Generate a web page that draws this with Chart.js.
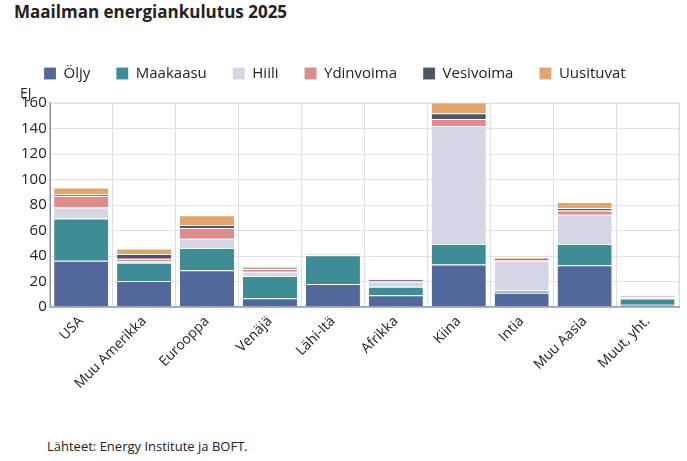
<!DOCTYPE html>
<html>
<head>
<meta charset="utf-8">
<script src="https://cdn.jsdelivr.net/npm/chart.js@4"></script>
<style>
  body { margin: 0; background: #fff; font-family: "Open Sans", sans-serif; }
  h1 { position: absolute; left: 14px; top: 0px; margin: 0; font-size: 17px; font-weight: bold; color: #222; }
  #wrap { position: absolute; left: 0; top: 40px; width: 687px; height: 358px; }
  .src { position: absolute; left: 47px; top: 437px; font-size: 13px; color: #222; }
</style>
</head>
<body>
<h1>Maailman energiankulutus 2025</h1>
<div id="wrap"><canvas id="c"></canvas></div>
<div class="src">Lähteet: Energy Institute ja BOFT.</div>
<script>
// alueet ja kerrosten osuudet luettu kuvasta (EJ)
const labels = ["USA", "Muu Amerikka", "Eurooppa", "Venäjä", "Lähi-Itä", "Afrikka", "Kiina", "Intia", "Muu Aasia", "Muut, yht."];
const data = {
    "Öljy":      [36.4, 20.5, 28.8, 6.9, 18.0, 9.3, 33.3, 11.2, 32.8, 1.9],
    "Maakaasu":  [33.1, 14.2, 17.6, 17.4, 22.7, 6.7, 16.2, 1.8, 16.7, 4.8],
    "Hiili":     [8.5, 1.3, 7.2, 3.3, 0.1, 4.0, 92.4, 23.4, 22.9, 1.2],
    "Ydinvoima": [9.0, 1.8, 8.4, 2.2, 0.5, 0.5, 5.5, 0.6, 3.3, 0.4],
    "Vesivoima": [1.3, 3.9, 2.3, 0.9, 0.2, 0.9, 4.6, 0.8, 1.9, 0.7],
    "Uusituvat": [5.5, 4.3, 7.7, 0.7, 0.5, 0.5, 10.0, 1.4, 4.8, 0.5]
};
const colors = {
    "Öljy": "#52679b", "Maakaasu": "#3e8c95", "Hiili": "#d3d6e3",
    "Ydinvoima": "#e08a8b", "Vesivoima": "#4b5669", "Uusituvat": "#e2a56c"
};

new Chart(document.getElementById("c"), {
    type: "bar",
    data: {
        labels: labels,
        datasets: Object.keys(data).map(k => ({
            label: k, data: data[k], backgroundColor: colors[k],
            borderColor: "rgba(255,255,255,0.6)", borderWidth: { top: 1 },
            categoryPercentage: 0.86, barPercentage: 1
        }))
    },
    options: {
        responsive: true, maintainAspectRatio: false, animation: false,
        layout: { padding: { left: 18, right: 8, top: 0 } },
        plugins: {
            legend: {
                position: "top", align: "start",
                labels: { boxWidth: 12, boxHeight: 12, padding: 26, color: "#222", font: { family: "Open Sans", size: 15 } }
            },
            title: { display: false }
        },
        scales: {
            x: {
                stacked: true,
                grid: { offset: true, color: "#dcdde3", drawTicks: false },
                border: { color: "#777c88", width: 2 },
                ticks: { color: "#222", maxRotation: 45, minRotation: 45, padding: 6, font: { family: "Open Sans", size: 14 } }
            },
            y: {
                stacked: true, min: 0, max: 160,
                ticks: { stepSize: 20, color: "#222", font: { family: "Open Sans", size: 15 } },
                grid: { color: "#e2e3e8", drawTicks: false },
                border: { color: "#777c88", width: 2 },
                title: { display: false }
            }
        }
    },
    plugins: [{
        id: "legendGap",
        beforeInit(chart) {
            const fit = chart.legend.fit;
            chart.legend.fit = function () { fit.bind(chart.legend)(); this.height += 12; };
        }
    }, {
        id: "ej",
        afterDraw(chart) {
            const ctx = chart.ctx;
            ctx.save();
            ctx.font = "14px 'Open Sans'";
            ctx.fillStyle = "#222";
            ctx.fillText("EJ", chart.scales.y.left + 2, chart.chartArea.top - 9);
            ctx.strokeStyle = "#dcdde3";
            ctx.strokeRect(chart.chartArea.left, chart.chartArea.top, chart.chartArea.right - chart.chartArea.left, chart.chartArea.bottom - chart.chartArea.top);
            ctx.restore();
        }
    }]
});
</script>
</body>
</html>
